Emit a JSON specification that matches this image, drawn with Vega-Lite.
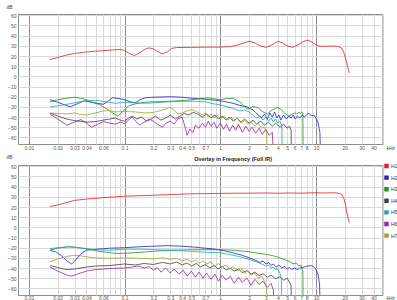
{
"$schema": "https://vega.github.io/schema/vega-lite/v6.json",
"padding": {"left": 5, "top": 3, "right": 0, "bottom": 0},
"background": "white",
"spacing": 3,
"config": {
  "font": "Liberation Sans",
  "view": {"stroke": "#8c8c8c", "strokeWidth": 1},
  "axis": {"labelFont": "Liberation Sans", "labelFontSize": 5, "labelColor": "#555555", "ticks": false, "domain": false, "gridColor": "#d9d9d9", "gridWidth": 1, "labelPadding": 2, "titleFont": "Liberation Sans", "titleFontSize": 5, "titleFontWeight": "normal", "titleColor": "#444444"},
  "legend": {"labelFont": "Liberation Sans"}
},
"datasets": {
"top": [
{"s":"H1","f":0.0166,"db":16.5},{"s":"H1","f":0.02,"db":18.5},{"s":"H1","f":0.025,"db":21},{"s":"H1","f":0.03,"db":22.5},{"s":"H1","f":0.04,"db":24},{"s":"H1","f":0.05,"db":24.8},{"s":"H1","f":0.06,"db":25.2},{"s":"H1","f":0.075,"db":26},{"s":"H1","f":0.09,"db":26.4},{"s":"H1","f":0.1,"db":25.5},{"s":"H1","f":0.11,"db":23},{"s":"H1","f":0.127,"db":20.5},{"s":"H1","f":0.145,"db":23.5},{"s":"H1","f":0.165,"db":27},{"s":"H1","f":0.18,"db":28},{"s":"H1","f":0.2,"db":27},{"s":"H1","f":0.225,"db":24},{"s":"H1","f":0.25,"db":22},{"s":"H1","f":0.28,"db":24},{"s":"H1","f":0.31,"db":27.5},{"s":"H1","f":0.35,"db":28.3},{"s":"H1","f":0.5,"db":28.5},{"s":"H1","f":0.7,"db":28.7},{"s":"H1","f":1,"db":28.8},{"s":"H1","f":1.3,"db":29.2},{"s":"H1","f":1.6,"db":31.5},{"s":"H1","f":2,"db":34.5},{"s":"H1","f":2.3,"db":33},{"s":"H1","f":2.6,"db":30},{"s":"H1","f":3,"db":28.5},{"s":"H1","f":3.4,"db":30.5},{"s":"H1","f":4,"db":34.5},{"s":"H1","f":4.5,"db":33},{"s":"H1","f":5,"db":30},{"s":"H1","f":5.7,"db":28.5},{"s":"H1","f":6.5,"db":31},{"s":"H1","f":7.5,"db":34.5},{"s":"H1","f":8.3,"db":35.5},{"s":"H1","f":9.3,"db":33},{"s":"H1","f":10.5,"db":30},{"s":"H1","f":11.5,"db":29.5},{"s":"H1","f":14,"db":29.8},{"s":"H1","f":17,"db":29.5},{"s":"H1","f":18.5,"db":28},{"s":"H1","f":19.5,"db":24},{"s":"H1","f":20.5,"db":17},{"s":"H1","f":21.5,"db":9},{"s":"H1","f":22.3,"db":3},
{"s":"H2","f":0.0166,"db":-23},{"s":"H2","f":0.02,"db":-25.5},{"s":"H2","f":0.027,"db":-30},{"s":"H2","f":0.032,"db":-27},{"s":"H2","f":0.038,"db":-24},{"s":"H2","f":0.045,"db":-25.5},{"s":"H2","f":0.06,"db":-27.5},{"s":"H2","f":0.068,"db":-24},{"s":"H2","f":0.075,"db":-21},{"s":"H2","f":0.09,"db":-22},{"s":"H2","f":0.1,"db":-23},{"s":"H2","f":0.115,"db":-25},{"s":"H2","f":0.13,"db":-26},{"s":"H2","f":0.145,"db":-23},{"s":"H2","f":0.165,"db":-21},{"s":"H2","f":0.2,"db":-20.5},{"s":"H2","f":0.3,"db":-20},{"s":"H2","f":0.4,"db":-20.5},{"s":"H2","f":0.5,"db":-21.5},{"s":"H2","f":0.7,"db":-22.5},{"s":"H2","f":1,"db":-24},{"s":"H2","f":1.3,"db":-26},{"s":"H2","f":1.6,"db":-28.5},{"s":"H2","f":1.9,"db":-30},{"s":"H2","f":2.2,"db":-33},{"s":"H2","f":2.5,"db":-38},{"s":"H2","f":2.7,"db":-41},{"s":"H2","f":2.9,"db":-37},{"s":"H2","f":3.1,"db":-42},{"s":"H2","f":3.3,"db":-36},{"s":"H2","f":3.5,"db":-40},{"s":"H2","f":3.7,"db":-35},{"s":"H2","f":3.9,"db":-41},{"s":"H2","f":4.1,"db":-38},{"s":"H2","f":4.3,"db":-43},{"s":"H2","f":4.6,"db":-38},{"s":"H2","f":4.9,"db":-42},{"s":"H2","f":5.2,"db":-39},{"s":"H2","f":5.5,"db":-41},{"s":"H2","f":5.8,"db":-38},{"s":"H2","f":6.1,"db":-42},{"s":"H2","f":6.4,"db":-39},{"s":"H2","f":6.8,"db":-41},{"s":"H2","f":7.2,"db":-38},{"s":"H2","f":7.6,"db":-40},{"s":"H2","f":8,"db":-37.5},{"s":"H2","f":8.5,"db":-36.5},{"s":"H2","f":9,"db":-39},{"s":"H2","f":9.5,"db":-38},{"s":"H2","f":10,"db":-41},{"s":"H2","f":10.5,"db":-45},{"s":"H2","f":11,"db":-55},{"s":"H2","f":11.2,"db":-80},
{"s":"H3","f":0.0166,"db":-25},{"s":"H3","f":0.02,"db":-23},{"s":"H3","f":0.025,"db":-21.5},{"s":"H3","f":0.03,"db":-20.5},{"s":"H3","f":0.037,"db":-22},{"s":"H3","f":0.045,"db":-25},{"s":"H3","f":0.055,"db":-28},{"s":"H3","f":0.065,"db":-32},{"s":"H3","f":0.075,"db":-36},{"s":"H3","f":0.085,"db":-39},{"s":"H3","f":0.095,"db":-35},{"s":"H3","f":0.11,"db":-29},{"s":"H3","f":0.13,"db":-27},{"s":"H3","f":0.16,"db":-25.5},{"s":"H3","f":0.2,"db":-25},{"s":"H3","f":0.3,"db":-24.5},{"s":"H3","f":0.45,"db":-23.5},{"s":"H3","f":0.6,"db":-22},{"s":"H3","f":0.75,"db":-21},{"s":"H3","f":0.85,"db":-22},{"s":"H3","f":1,"db":-23},{"s":"H3","f":1.15,"db":-22},{"s":"H3","f":1.36,"db":-21.5},{"s":"H3","f":1.6,"db":-25},{"s":"H3","f":1.8,"db":-30},{"s":"H3","f":1.95,"db":-32.5},{"s":"H3","f":2.2,"db":-29.5},{"s":"H3","f":2.5,"db":-31},{"s":"H3","f":2.8,"db":-35},{"s":"H3","f":3.1,"db":-37},{"s":"H3","f":3.5,"db":-33},{"s":"H3","f":4,"db":-30.5},{"s":"H3","f":4.4,"db":-33},{"s":"H3","f":4.8,"db":-37},{"s":"H3","f":5.2,"db":-39},{"s":"H3","f":5.6,"db":-37.5},{"s":"H3","f":6,"db":-36},{"s":"H3","f":6.3,"db":-37},{"s":"H3","f":6.6,"db":-35.5},{"s":"H3","f":6.9,"db":-36.5},{"s":"H3","f":7.1,"db":-35},{"s":"H3","f":7.3,"db":-36},{"s":"H3","f":7.35,"db":-80},
{"s":"H4","f":0.0166,"db":-36},{"s":"H4","f":0.02,"db":-39},{"s":"H4","f":0.025,"db":-42},{"s":"H4","f":0.03,"db":-43.5},{"s":"H4","f":0.04,"db":-45},{"s":"H4","f":0.05,"db":-44.5},{"s":"H4","f":0.06,"db":-43},{"s":"H4","f":0.07,"db":-42},{"s":"H4","f":0.08,"db":-41},{"s":"H4","f":0.09,"db":-43},{"s":"H4","f":0.1,"db":-44},{"s":"H4","f":0.11,"db":-41},{"s":"H4","f":0.12,"db":-39},{"s":"H4","f":0.135,"db":-42},{"s":"H4","f":0.15,"db":-40},{"s":"H4","f":0.17,"db":-44},{"s":"H4","f":0.19,"db":-42},{"s":"H4","f":0.21,"db":-39},{"s":"H4","f":0.24,"db":-43},{"s":"H4","f":0.27,"db":-41},{"s":"H4","f":0.3,"db":-38},{"s":"H4","f":0.34,"db":-42},{"s":"H4","f":0.38,"db":-39},{"s":"H4","f":0.42,"db":-36.5},{"s":"H4","f":0.47,"db":-38},{"s":"H4","f":0.52,"db":-35.5},{"s":"H4","f":0.58,"db":-37},{"s":"H4","f":0.65,"db":-40},{"s":"H4","f":0.72,"db":-37},{"s":"H4","f":0.8,"db":-41},{"s":"H4","f":0.88,"db":-38},{"s":"H4","f":0.96,"db":-42},{"s":"H4","f":1.05,"db":-39},{"s":"H4","f":1.15,"db":-43},{"s":"H4","f":1.25,"db":-40},{"s":"H4","f":1.37,"db":-44},{"s":"H4","f":1.5,"db":-41},{"s":"H4","f":1.65,"db":-45},{"s":"H4","f":1.8,"db":-42},{"s":"H4","f":2,"db":-46},{"s":"H4","f":2.2,"db":-43},{"s":"H4","f":2.4,"db":-47},{"s":"H4","f":2.65,"db":-44},{"s":"H4","f":2.9,"db":-48},{"s":"H4","f":3.2,"db":-45},{"s":"H4","f":3.5,"db":-49},{"s":"H4","f":3.8,"db":-46},{"s":"H4","f":4.2,"db":-50},{"s":"H4","f":4.6,"db":-47},{"s":"H4","f":5,"db":-51},{"s":"H4","f":5.3,"db":-49},{"s":"H4","f":5.5,"db":-53},{"s":"H4","f":5.55,"db":-80},
{"s":"H5","f":0.0166,"db":-30},{"s":"H5","f":0.02,"db":-29},{"s":"H5","f":0.025,"db":-27.5},{"s":"H5","f":0.03,"db":-26},{"s":"H5","f":0.04,"db":-24},{"s":"H5","f":0.05,"db":-23.5},{"s":"H5","f":0.065,"db":-25},{"s":"H5","f":0.08,"db":-26.5},{"s":"H5","f":0.1,"db":-25.5},{"s":"H5","f":0.13,"db":-26},{"s":"H5","f":0.16,"db":-26.5},{"s":"H5","f":0.2,"db":-26},{"s":"H5","f":0.3,"db":-25},{"s":"H5","f":0.4,"db":-24.5},{"s":"H5","f":0.55,"db":-24.5},{"s":"H5","f":0.7,"db":-25},{"s":"H5","f":0.85,"db":-27},{"s":"H5","f":1,"db":-28},{"s":"H5","f":1.2,"db":-30},{"s":"H5","f":1.4,"db":-32},{"s":"H5","f":1.6,"db":-34},{"s":"H5","f":1.8,"db":-33},{"s":"H5","f":2,"db":-35},{"s":"H5","f":2.2,"db":-38},{"s":"H5","f":2.4,"db":-41},{"s":"H5","f":2.6,"db":-39},{"s":"H5","f":2.8,"db":-43},{"s":"H5","f":3,"db":-40},{"s":"H5","f":3.2,"db":-44},{"s":"H5","f":3.4,"db":-41},{"s":"H5","f":3.6,"db":-45},{"s":"H5","f":3.8,"db":-42},{"s":"H5","f":4,"db":-46},{"s":"H5","f":4.2,"db":-44},{"s":"H5","f":4.4,"db":-48},{"s":"H5","f":4.45,"db":-80},
{"s":"H6","f":0.0166,"db":-37},{"s":"H6","f":0.02,"db":-42},{"s":"H6","f":0.025,"db":-48},{"s":"H6","f":0.03,"db":-45},{"s":"H6","f":0.035,"db":-42.5},{"s":"H6","f":0.04,"db":-46},{"s":"H6","f":0.045,"db":-50},{"s":"H6","f":0.05,"db":-48},{"s":"H6","f":0.06,"db":-44.5},{"s":"H6","f":0.07,"db":-46},{"s":"H6","f":0.08,"db":-47},{"s":"H6","f":0.09,"db":-45},{"s":"H6","f":0.1,"db":-46.5},{"s":"H6","f":0.11,"db":-43},{"s":"H6","f":0.12,"db":-40},{"s":"H6","f":0.13,"db":-44},{"s":"H6","f":0.145,"db":-48},{"s":"H6","f":0.16,"db":-45},{"s":"H6","f":0.18,"db":-42},{"s":"H6","f":0.2,"db":-44},{"s":"H6","f":0.22,"db":-47},{"s":"H6","f":0.25,"db":-50},{"s":"H6","f":0.27,"db":-46},{"s":"H6","f":0.3,"db":-44},{"s":"H6","f":0.33,"db":-47},{"s":"H6","f":0.36,"db":-42},{"s":"H6","f":0.4,"db":-40},{"s":"H6","f":0.43,"db":-50},{"s":"H6","f":0.45,"db":-58},{"s":"H6","f":0.48,"db":-52},{"s":"H6","f":0.52,"db":-55},{"s":"H6","f":0.55,"db":-48},{"s":"H6","f":0.6,"db":-51},{"s":"H6","f":0.65,"db":-46},{"s":"H6","f":0.7,"db":-50},{"s":"H6","f":0.75,"db":-44},{"s":"H6","f":0.8,"db":-49},{"s":"H6","f":0.86,"db":-45},{"s":"H6","f":0.92,"db":-51},{"s":"H6","f":1,"db":-46},{"s":"H6","f":1.08,"db":-52},{"s":"H6","f":1.16,"db":-47},{"s":"H6","f":1.25,"db":-54},{"s":"H6","f":1.35,"db":-48},{"s":"H6","f":1.45,"db":-53},{"s":"H6","f":1.55,"db":-47},{"s":"H6","f":1.7,"db":-55},{"s":"H6","f":1.85,"db":-49},{"s":"H6","f":2,"db":-54},{"s":"H6","f":2.15,"db":-50},{"s":"H6","f":2.35,"db":-56},{"s":"H6","f":2.55,"db":-51},{"s":"H6","f":2.75,"db":-57},{"s":"H6","f":3,"db":-52},{"s":"H6","f":3.25,"db":-58},{"s":"H6","f":3.5,"db":-55},{"s":"H6","f":3.6,"db":-80},
{"s":"H7","f":0.0166,"db":-36},{"s":"H7","f":0.02,"db":-36.5},{"s":"H7","f":0.025,"db":-37},{"s":"H7","f":0.03,"db":-36},{"s":"H7","f":0.035,"db":-37.5},{"s":"H7","f":0.04,"db":-38},{"s":"H7","f":0.05,"db":-36},{"s":"H7","f":0.06,"db":-34},{"s":"H7","f":0.07,"db":-33.5},{"s":"H7","f":0.08,"db":-35},{"s":"H7","f":0.1,"db":-34.5},{"s":"H7","f":0.13,"db":-35},{"s":"H7","f":0.16,"db":-36},{"s":"H7","f":0.2,"db":-35.5},{"s":"H7","f":0.25,"db":-33},{"s":"H7","f":0.3,"db":-30.5},{"s":"H7","f":0.33,"db":-33},{"s":"H7","f":0.36,"db":-37},{"s":"H7","f":0.4,"db":-36},{"s":"H7","f":0.45,"db":-34},{"s":"H7","f":0.5,"db":-32.5},{"s":"H7","f":0.55,"db":-34},{"s":"H7","f":0.6,"db":-36},{"s":"H7","f":0.65,"db":-38},{"s":"H7","f":0.7,"db":-36},{"s":"H7","f":0.75,"db":-40},{"s":"H7","f":0.8,"db":-37},{"s":"H7","f":0.87,"db":-41},{"s":"H7","f":0.93,"db":-38},{"s":"H7","f":1,"db":-42},{"s":"H7","f":1.1,"db":-39},{"s":"H7","f":1.2,"db":-43},{"s":"H7","f":1.3,"db":-40},{"s":"H7","f":1.4,"db":-44},{"s":"H7","f":1.5,"db":-41},{"s":"H7","f":1.65,"db":-46},{"s":"H7","f":1.8,"db":-43},{"s":"H7","f":1.95,"db":-47},{"s":"H7","f":2.1,"db":-45},{"s":"H7","f":2.3,"db":-49},{"s":"H7","f":2.5,"db":-46},{"s":"H7","f":2.7,"db":-51},{"s":"H7","f":2.9,"db":-50},{"s":"H7","f":3.05,"db":-56},{"s":"H7","f":3.1,"db":-80}
],
"bot": [
{"s":"H1","f":0.0166,"db":20.4},{"s":"H1","f":0.02,"db":22},{"s":"H1","f":0.025,"db":24.5},{"s":"H1","f":0.03,"db":26.5},{"s":"H1","f":0.04,"db":27.8},{"s":"H1","f":0.05,"db":28.5},{"s":"H1","f":0.06,"db":29.2},{"s":"H1","f":0.08,"db":30},{"s":"H1","f":0.1,"db":30.6},{"s":"H1","f":0.15,"db":31.2},{"s":"H1","f":0.2,"db":31.6},{"s":"H1","f":0.3,"db":32.2},{"s":"H1","f":0.5,"db":33},{"s":"H1","f":0.7,"db":33.2},{"s":"H1","f":1,"db":33.4},{"s":"H1","f":1.5,"db":33.6},{"s":"H1","f":2,"db":33.6},{"s":"H1","f":3,"db":33.8},{"s":"H1","f":4,"db":33.5},{"s":"H1","f":5,"db":33.8},{"s":"H1","f":7,"db":33.6},{"s":"H1","f":10,"db":34},{"s":"H1","f":12,"db":33.8},{"s":"H1","f":15,"db":34},{"s":"H1","f":17,"db":33.7},{"s":"H1","f":18.5,"db":32.5},{"s":"H1","f":19.5,"db":29},{"s":"H1","f":20.3,"db":23},{"s":"H1","f":21,"db":15},{"s":"H1","f":21.7,"db":9},{"s":"H1","f":22.2,"db":5},
{"s":"H2","f":0.0166,"db":-22.5},{"s":"H2","f":0.019,"db":-24},{"s":"H2","f":0.022,"db":-28},{"s":"H2","f":0.025,"db":-33},{"s":"H2","f":0.028,"db":-36},{"s":"H2","f":0.031,"db":-32},{"s":"H2","f":0.035,"db":-26},{"s":"H2","f":0.04,"db":-22.5},{"s":"H2","f":0.05,"db":-21.5},{"s":"H2","f":0.07,"db":-20.5},{"s":"H2","f":0.1,"db":-20},{"s":"H2","f":0.15,"db":-19},{"s":"H2","f":0.2,"db":-18.5},{"s":"H2","f":0.28,"db":-18},{"s":"H2","f":0.4,"db":-18.5},{"s":"H2","f":0.55,"db":-19.5},{"s":"H2","f":0.7,"db":-20.5},{"s":"H2","f":0.9,"db":-21.5},{"s":"H2","f":1.1,"db":-23},{"s":"H2","f":1.35,"db":-25},{"s":"H2","f":1.7,"db":-27.5},{"s":"H2","f":2,"db":-30},{"s":"H2","f":2.3,"db":-32},{"s":"H2","f":2.6,"db":-34.5},{"s":"H2","f":2.8,"db":-33},{"s":"H2","f":3,"db":-36},{"s":"H2","f":3.2,"db":-34.5},{"s":"H2","f":3.4,"db":-37.5},{"s":"H2","f":3.6,"db":-36},{"s":"H2","f":3.85,"db":-39},{"s":"H2","f":4.1,"db":-37},{"s":"H2","f":4.4,"db":-40},{"s":"H2","f":4.7,"db":-38.5},{"s":"H2","f":5,"db":-41},{"s":"H2","f":5.3,"db":-39.5},{"s":"H2","f":5.6,"db":-41.5},{"s":"H2","f":6,"db":-40},{"s":"H2","f":6.4,"db":-41.5},{"s":"H2","f":6.8,"db":-40},{"s":"H2","f":7.3,"db":-39.5},{"s":"H2","f":7.8,"db":-38.5},{"s":"H2","f":8.3,"db":-38},{"s":"H2","f":8.9,"db":-37.5},{"s":"H2","f":9.4,"db":-38.5},{"s":"H2","f":10,"db":-41},{"s":"H2","f":10.5,"db":-46},{"s":"H2","f":10.9,"db":-55},{"s":"H2","f":11.1,"db":-80},
{"s":"H3","f":0.0166,"db":-22.5},{"s":"H3","f":0.02,"db":-20.5},{"s":"H3","f":0.026,"db":-19},{"s":"H3","f":0.03,"db":-19.5},{"s":"H3","f":0.04,"db":-21},{"s":"H3","f":0.05,"db":-23},{"s":"H3","f":0.065,"db":-24.5},{"s":"H3","f":0.08,"db":-25.5},{"s":"H3","f":0.1,"db":-25.5},{"s":"H3","f":0.15,"db":-24.5},{"s":"H3","f":0.2,"db":-23.5},{"s":"H3","f":0.3,"db":-22.5},{"s":"H3","f":0.5,"db":-22},{"s":"H3","f":0.7,"db":-22},{"s":"H3","f":1,"db":-22},{"s":"H3","f":1.4,"db":-22.5},{"s":"H3","f":2,"db":-24},{"s":"H3","f":2.5,"db":-25.5},{"s":"H3","f":3,"db":-26.5},{"s":"H3","f":3.6,"db":-28},{"s":"H3","f":4.2,"db":-30},{"s":"H3","f":4.8,"db":-32},{"s":"H3","f":5.3,"db":-33.5},{"s":"H3","f":5.8,"db":-36},{"s":"H3","f":6.2,"db":-35},{"s":"H3","f":6.6,"db":-38},{"s":"H3","f":6.9,"db":-37},{"s":"H3","f":7.1,"db":-40},{"s":"H3","f":7.3,"db":-43},{"s":"H3","f":7.35,"db":-80},
{"s":"H4","f":0.0166,"db":-37.5},{"s":"H4","f":0.02,"db":-39.5},{"s":"H4","f":0.025,"db":-41.5},{"s":"H4","f":0.03,"db":-41},{"s":"H4","f":0.04,"db":-39},{"s":"H4","f":0.05,"db":-38},{"s":"H4","f":0.07,"db":-37.5},{"s":"H4","f":0.1,"db":-36},{"s":"H4","f":0.13,"db":-37},{"s":"H4","f":0.16,"db":-35.5},{"s":"H4","f":0.2,"db":-36.5},{"s":"H4","f":0.25,"db":-34.5},{"s":"H4","f":0.3,"db":-36},{"s":"H4","f":0.35,"db":-34},{"s":"H4","f":0.4,"db":-37},{"s":"H4","f":0.45,"db":-35},{"s":"H4","f":0.5,"db":-38},{"s":"H4","f":0.56,"db":-35.5},{"s":"H4","f":0.62,"db":-39},{"s":"H4","f":0.7,"db":-36.5},{"s":"H4","f":0.78,"db":-40},{"s":"H4","f":0.86,"db":-37.5},{"s":"H4","f":0.95,"db":-41},{"s":"H4","f":1.05,"db":-38.5},{"s":"H4","f":1.15,"db":-42},{"s":"H4","f":1.27,"db":-40},{"s":"H4","f":1.4,"db":-43},{"s":"H4","f":1.55,"db":-41},{"s":"H4","f":1.7,"db":-44.5},{"s":"H4","f":1.9,"db":-42.5},{"s":"H4","f":2.1,"db":-46},{"s":"H4","f":2.3,"db":-44},{"s":"H4","f":2.55,"db":-47.5},{"s":"H4","f":2.8,"db":-45.5},{"s":"H4","f":3.1,"db":-49},{"s":"H4","f":3.4,"db":-47},{"s":"H4","f":3.8,"db":-50.5},{"s":"H4","f":4.2,"db":-48.5},{"s":"H4","f":4.6,"db":-52},{"s":"H4","f":5,"db":-50},{"s":"H4","f":5.3,"db":-54},{"s":"H4","f":5.5,"db":-57},{"s":"H4","f":5.55,"db":-80},
{"s":"H5","f":0.0166,"db":-21},{"s":"H5","f":0.02,"db":-20},{"s":"H5","f":0.025,"db":-19.2},{"s":"H5","f":0.03,"db":-19.5},{"s":"H5","f":0.04,"db":-21},{"s":"H5","f":0.05,"db":-22},{"s":"H5","f":0.07,"db":-22.5},{"s":"H5","f":0.1,"db":-21.5},{"s":"H5","f":0.15,"db":-21.5},{"s":"H5","f":0.2,"db":-22},{"s":"H5","f":0.3,"db":-22.5},{"s":"H5","f":0.5,"db":-23.5},{"s":"H5","f":0.7,"db":-24.5},{"s":"H5","f":1,"db":-25},{"s":"H5","f":1.3,"db":-27},{"s":"H5","f":1.7,"db":-29.5},{"s":"H5","f":2,"db":-31.5},{"s":"H5","f":2.4,"db":-34},{"s":"H5","f":2.7,"db":-36},{"s":"H5","f":3,"db":-38},{"s":"H5","f":3.2,"db":-37},{"s":"H5","f":3.4,"db":-40},{"s":"H5","f":3.6,"db":-39},{"s":"H5","f":3.8,"db":-42},{"s":"H5","f":4,"db":-41},{"s":"H5","f":4.2,"db":-45},{"s":"H5","f":4.35,"db":-50},{"s":"H5","f":4.4,"db":-80},
{"s":"H6","f":0.0166,"db":-39},{"s":"H6","f":0.02,"db":-43},{"s":"H6","f":0.025,"db":-47},{"s":"H6","f":0.028,"db":-48},{"s":"H6","f":0.032,"db":-46},{"s":"H6","f":0.04,"db":-43},{"s":"H6","f":0.05,"db":-41.5},{"s":"H6","f":0.07,"db":-40.5},{"s":"H6","f":0.1,"db":-40},{"s":"H6","f":0.12,"db":-39},{"s":"H6","f":0.14,"db":-38},{"s":"H6","f":0.16,"db":-40},{"s":"H6","f":0.18,"db":-38.5},{"s":"H6","f":0.2,"db":-42},{"s":"H6","f":0.22,"db":-39.5},{"s":"H6","f":0.24,"db":-44},{"s":"H6","f":0.27,"db":-40},{"s":"H6","f":0.3,"db":-45},{"s":"H6","f":0.33,"db":-41},{"s":"H6","f":0.37,"db":-46},{"s":"H6","f":0.41,"db":-42},{"s":"H6","f":0.45,"db":-48},{"s":"H6","f":0.5,"db":-43},{"s":"H6","f":0.55,"db":-49},{"s":"H6","f":0.6,"db":-44},{"s":"H6","f":0.66,"db":-50},{"s":"H6","f":0.72,"db":-45},{"s":"H6","f":0.8,"db":-51},{"s":"H6","f":0.88,"db":-46},{"s":"H6","f":0.96,"db":-53},{"s":"H6","f":1.05,"db":-47},{"s":"H6","f":1.15,"db":-52},{"s":"H6","f":1.27,"db":-48},{"s":"H6","f":1.4,"db":-55},{"s":"H6","f":1.55,"db":-49},{"s":"H6","f":1.7,"db":-54},{"s":"H6","f":1.9,"db":-50},{"s":"H6","f":2.1,"db":-57},{"s":"H6","f":2.3,"db":-51},{"s":"H6","f":2.55,"db":-56},{"s":"H6","f":2.8,"db":-53},{"s":"H6","f":3.1,"db":-59},{"s":"H6","f":3.4,"db":-55},{"s":"H6","f":3.6,"db":-62},{"s":"H6","f":3.65,"db":-80},
{"s":"H7","f":0.0166,"db":-34},{"s":"H7","f":0.02,"db":-31},{"s":"H7","f":0.025,"db":-28.5},{"s":"H7","f":0.03,"db":-27.5},{"s":"H7","f":0.035,"db":-28},{"s":"H7","f":0.04,"db":-29},{"s":"H7","f":0.05,"db":-30},{"s":"H7","f":0.07,"db":-30.5},{"s":"H7","f":0.1,"db":-30},{"s":"H7","f":0.15,"db":-30.5},{"s":"H7","f":0.2,"db":-31},{"s":"H7","f":0.25,"db":-30},{"s":"H7","f":0.3,"db":-31.5},{"s":"H7","f":0.35,"db":-30.5},{"s":"H7","f":0.4,"db":-33},{"s":"H7","f":0.45,"db":-31.5},{"s":"H7","f":0.5,"db":-34},{"s":"H7","f":0.55,"db":-32},{"s":"H7","f":0.6,"db":-35.5},{"s":"H7","f":0.66,"db":-33},{"s":"H7","f":0.72,"db":-36},{"s":"H7","f":0.8,"db":-34},{"s":"H7","f":0.88,"db":-38},{"s":"H7","f":0.96,"db":-35.5},{"s":"H7","f":1.05,"db":-39},{"s":"H7","f":1.15,"db":-37},{"s":"H7","f":1.25,"db":-41},{"s":"H7","f":1.37,"db":-38.5},{"s":"H7","f":1.5,"db":-43},{"s":"H7","f":1.65,"db":-40.5},{"s":"H7","f":1.8,"db":-45},{"s":"H7","f":1.95,"db":-43},{"s":"H7","f":2.1,"db":-47},{"s":"H7","f":2.3,"db":-45},{"s":"H7","f":2.5,"db":-50},{"s":"H7","f":2.7,"db":-48},{"s":"H7","f":2.9,"db":-53},{"s":"H7","f":3.05,"db":-58},{"s":"H7","f":3.1,"db":-80}
]
},
"resolve": {"scale": {"color": "independent"}, "legend": {"color": "independent"}},
"vconcat": [
{
  "width": 364.4, "height": 130,
  "data": {"name": "top"},
  "mark": {"type": "line", "strokeWidth": 0.8, "clip": true},
  "encoding": {
    "x": {"field": "f", "type": "quantitative",
      "scale": {"type": "log", "domain": [0.0077, 49.5], "nice": false},
      "axis": {"values": [0.01,0.02,0.03,0.04,0.05,0.06,0.07,0.08,0.09,0.1,0.2,0.3,0.4,0.5,0.6,0.7,0.8,0.9,1,2,3,4,5,6,7,8,9,10,20,30,40],
        "format": "~g", "labelOverlap": false, "labelFlush": false, "labelPadding": 1,
        "labelExpr": "indexof([0.01,0.02,0.03,0.04,0.06,0.1,0.2,0.3,0.4,0.5,0.7,1,2,3,4,5,6,7,8,10,20,30,40], datum.value) >= 0 ? datum.label : ''",
        "gridColor": {"condition": {"test": "indexof([0.01,0.1,1,10], datum.value) >= 0", "value": "#8a8a8a"}, "value": "#d9d9d9"},
        "title": "kHz", "titleX": 368, "titleY": 1, "titleAlign": "left", "titleBaseline": "top", "titleAngle": 0}},
    "y": {"field": "db", "type": "quantitative",
      "scale": {"domain": [-66.5, 61.3], "nice": false, "zero": false},
      "axis": {"values": [-60,-50,-40,-30,-20,-10,0,10,20,30,40,50,60], "labelOverlap": false,
        "title": "dB", "titleAngle": 0, "titleX": -12, "titleY": -6, "titleAlign": "left", "titleBaseline": "alphabetic"}},
    "color": {"field": "s", "type": "nominal",
      "scale": {"domain": ["H1","H2","H3","H4","H5","H6","H7"], "range": ["#e02020","#2020d0","#209020","#404040","#20a8a8","#a020a0","#a0a030"]},
      "legend": null}
  }
},
{
  "width": 364.4, "height": 130,
  "title": {"text": "Overlay in Frequency (Full IR)", "fontSize": 5.5, "fontWeight": "bold", "color": "#222222", "font": "Liberation Sans", "offset": 2, "dx": 33, "dy": 10, "anchor": "middle"},
  "data": {"name": "bot"},
  "mark": {"type": "line", "strokeWidth": 0.8, "clip": true},
  "encoding": {
    "x": {"field": "f", "type": "quantitative",
      "scale": {"type": "log", "domain": [0.0077, 49.5], "nice": false},
      "axis": {"values": [0.01,0.02,0.03,0.04,0.05,0.06,0.07,0.08,0.09,0.1,0.2,0.3,0.4,0.5,0.6,0.7,0.8,0.9,1,2,3,4,5,6,7,8,9,10,20,30,40],
        "format": "~g", "labelOverlap": false, "labelFlush": false, "labelPadding": 1,
        "labelExpr": "indexof([0.01,0.02,0.03,0.04,0.06,0.1,0.2,0.3,0.4,0.5,0.7,1,2,3,4,5,6,7,8,10,20,30,40], datum.value) >= 0 ? datum.label : ''",
        "gridColor": {"condition": {"test": "indexof([0.01,0.1,1,10], datum.value) >= 0", "value": "#8a8a8a"}, "value": "#d9d9d9"},
        "title": "kHz", "titleX": 368, "titleY": 1, "titleAlign": "left", "titleBaseline": "top", "titleAngle": 0}},
    "y": {"field": "db", "type": "quantitative",
      "scale": {"domain": [-66.5, 61.3], "nice": false, "zero": false},
      "axis": {"values": [-60,-50,-40,-30,-20,-10,0,10,20,30,40,50,60], "labelOverlap": false,
        "title": "dB", "titleAngle": 0, "titleX": -12, "titleY": -6, "titleAlign": "left", "titleBaseline": "alphabetic"}},
    "color": {"field": "s", "type": "nominal",
      "scale": {"domain": ["H1","H2","H3","H4","H5","H6","H7"], "range": ["#e02020","#2020d0","#209020","#404040","#20a8a8","#a020a0","#a0a030"]},
      "legend": {"orient": "none", "legendX": 366, "legendY": -1.5, "title": null, "padding": 0, "offset": 0,
        "symbolType": "square", "symbolSize": 5, "symbolStrokeWidth": 2.2, "labelFontSize": 5, "labelColor": "#333333", "labelOffset": 2, "rowPadding": -1.4}}
  }
}
]
}
